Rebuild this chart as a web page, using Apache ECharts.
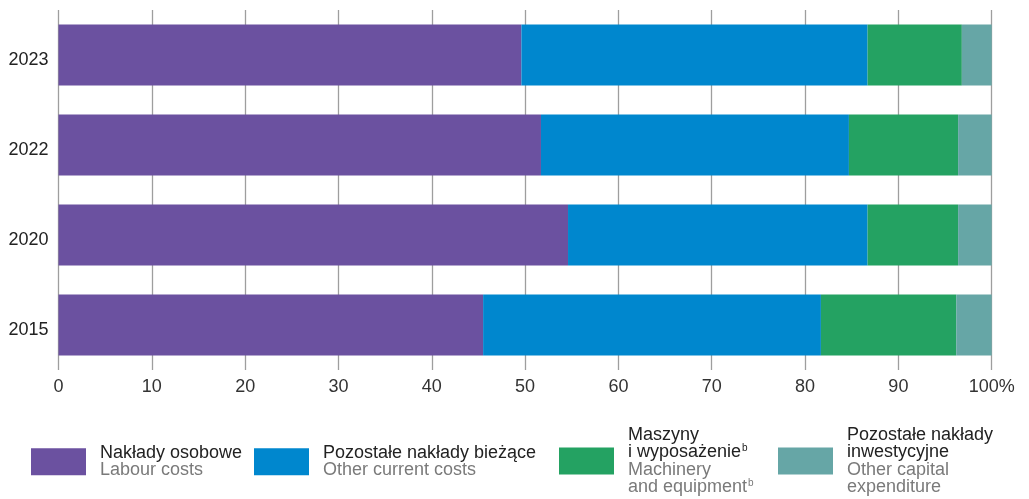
<!DOCTYPE html>
<html>
<head>
<meta charset="utf-8">
<script src="https://cdn.jsdelivr.net/npm/echarts@6/dist/echarts.min.js"></script>
<style>
  html, body { margin: 0; padding: 0; background: #fff; }
  #chart { width: 1029px; height: 499px; }
</style>
</head>
<body>
<div id="chart"></div>
<script>
// lata (od dołu do góry)
const years = ['2015', '2020', '2022', '2023'];
// udziały w %
const labourCosts = [45.5, 54.6, 51.7, 49.6];
const otherCurrentCosts = [36.2, 32.1, 33.0, 37.1];
const machinery = [14.5, 9.7, 11.7, 10.1];
const otherCapital = [3.8, 3.6, 3.6, 3.2];

const seriesNames = ['Nakłady osobowe', 'Pozostałe nakłady bieżące', 'Maszyny i wyposażenie', 'Pozostałe nakłady inwestycyjne'];
const colors = ['#6B51A0', '#0087CE', '#24A262', '#66A6A6'];

const FONT = '"Liberation Sans", Arial, sans-serif';

const rich = {
  t: { fontFamily: FONT, fontSize: 18, color: '#222', lineHeight: 17.4, padding: [0, 0, 0, 9] },
  s: { fontFamily: FONT, fontSize: 18, color: '#7a7a7a', lineHeight: 17.4, padding: [0, 0, 0, 9] },
  ts: { fontFamily: FONT, fontSize: 10, color: '#222', lineHeight: 17.4, verticalAlign: 'top', padding: [0, 0, 0, 1] },
  ss: { fontFamily: FONT, fontSize: 10, color: '#7a7a7a', lineHeight: 17.4, verticalAlign: 'top', padding: [0, 0, 0, 1] }
};

const legendLabels = {
  'Nakłady osobowe': '{t|Nakłady osobowe}\n{s|Labour costs}',
  'Pozostałe nakłady bieżące': '{t|Pozostałe nakłady bieżące}\n{s|Other current costs}',
  'Maszyny i wyposażenie': '{t|Maszyny}\n{t|i wyposażenie}{ts|b}\n{s|Machinery}\n{s|and equipment}{ss|b}',
  'Pozostałe nakłady inwestycyjne': '{t|Pozostałe nakłady}\n{t|inwestycyjne}\n{s|Other capital}\n{s|expenditure}'
};

const legendPos = [
  { left: 31, top: 444 },
  { left: 254, top: 444 },
  { left: 559, top: 426 },
  { left: 778, top: 426 }
];

const chart = echarts.init(document.getElementById('chart'));

const option = {
  animation: false,
  grid: { left: 58.5, right: 37.3, top: 10, height: 360, containLabel: false },
  legend: seriesNames.map((name, i) => ({
    data: [name],
    left: legendPos[i].left,
    top: legendPos[i].top,
    padding: 0,
    itemWidth: 55,
    itemHeight: 27,
    icon: 'rect',
    selectedMode: false,
    formatter: n => legendLabels[n],
    textStyle: { rich: rich }
  })),
  xAxis: {
    type: 'value',
    min: 0,
    max: 100,
    interval: 10,
    axisLine: { show: false },
    axisTick: { show: false },
    splitLine: { show: true, lineStyle: { color: '#9e9e9e', width: 1.3 } },
    axisLabel: {
      margin: 8,
      fontFamily: FONT,
      fontSize: 18,
      color: '#333',
      formatter: v => (v === 100 ? '100%' : String(v))
    }
  },
  yAxis: {
    type: 'category',
    data: years,
    axisLine: { show: false },
    axisTick: { show: false },
    axisLabel: {
      margin: 10,
      formatter: v => '{y|' + v + '}',
      rich: { y: { fontFamily: FONT, fontSize: 18, color: '#222', padding: [11, 0, 0, 0] } }
    }
  },
  series: [labourCosts, otherCurrentCosts, machinery, otherCapital].map((d, i) => ({
    name: seriesNames[i],
    type: 'bar',
    stack: 'total',
    data: d,
    barWidth: 61,
    itemStyle: { color: colors[i] }
  }))
};

chart.setOption(option);
</script>
</body>
</html>
